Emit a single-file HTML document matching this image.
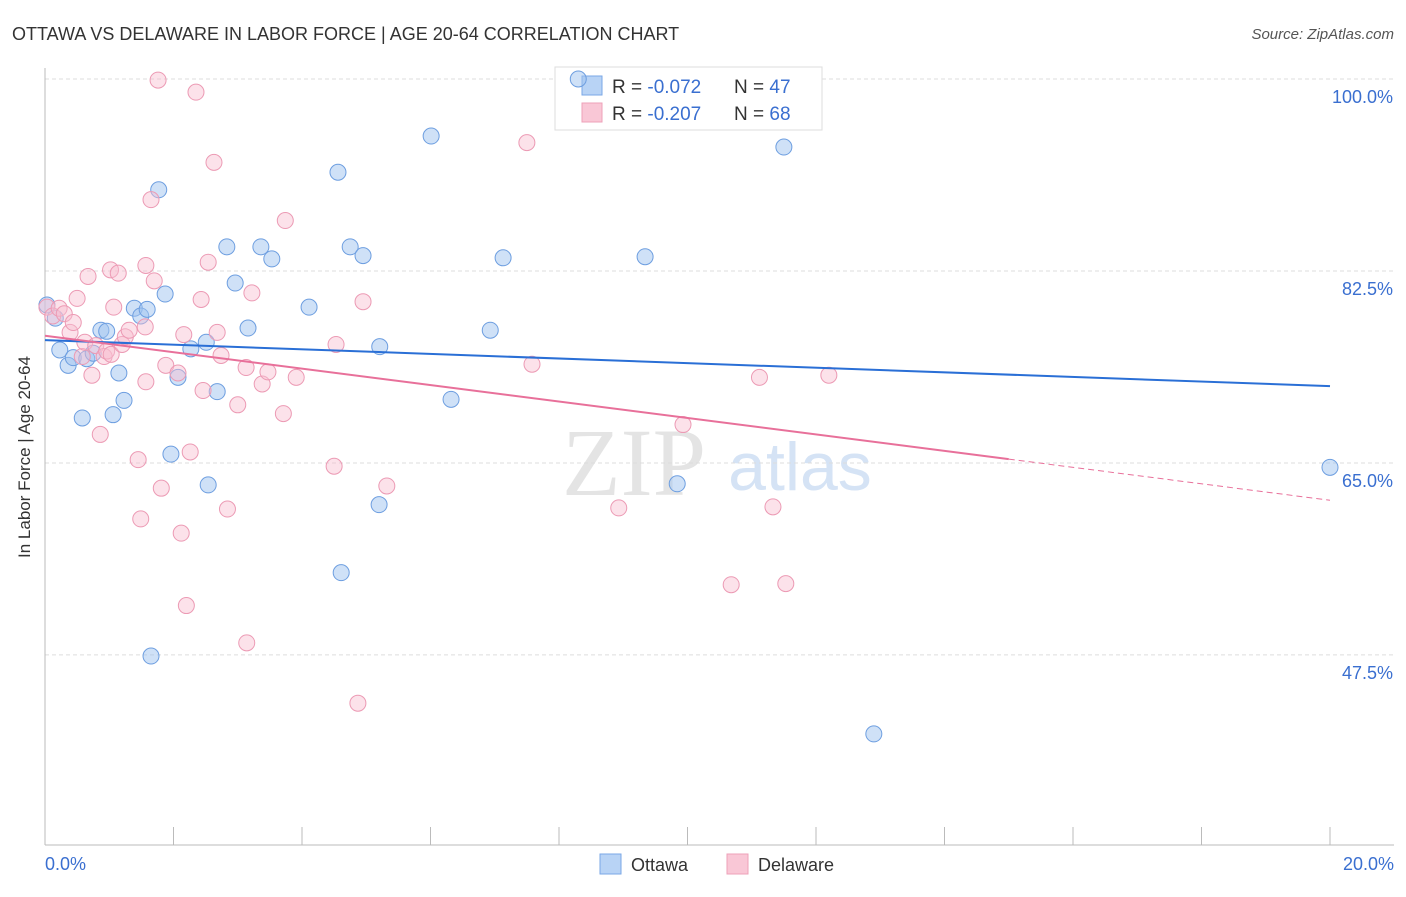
<!DOCTYPE html>
<html><head><meta charset="utf-8"><style>
body{margin:0;background:#fff;font-family:"Liberation Sans",sans-serif;}
</style></head><body>
<svg id="chart" width="1406" height="892" xmlns="http://www.w3.org/2000/svg">
<text x="12" y="40" font-size="18" fill="#333">OTTAWA VS DELAWARE IN LABOR FORCE | AGE 20-64 CORRELATION CHART</text>
<text x="1394" y="39" font-size="15" fill="#555" font-style="italic" text-anchor="end">Source: ZipAtlas.com</text>
<text x="634" y="495" font-size="96" fill="#e4e4e4" font-family="Liberation Serif" text-anchor="middle">ZIP</text>
<text x="800" y="490" font-size="68" fill="#d5e3f5" text-anchor="middle">atlas</text>
<g id="grid"></g><g id="axes"></g>
<g>
<rect x="555" y="67" width="267" height="63" fill="#fff" stroke="#ddd"/>
<rect x="582" y="76" width="20" height="19" fill="#b8d3f5" stroke="#7aa7e6"/>
<rect x="582" y="103" width="20" height="19" fill="#f9c7d6" stroke="#eea0b8"/>
<text x="612" y="93" font-size="19" fill="#333">R = <tspan fill="#3a6fd0">-0.072</tspan></text>
<text x="734" y="93" font-size="19" fill="#333">N = <tspan fill="#3a6fd0">47</tspan></text>
<text x="612" y="120" font-size="19" fill="#333">R = <tspan fill="#3a6fd0">-0.207</tspan></text>
<text x="734" y="120" font-size="19" fill="#333">N = <tspan fill="#3a6fd0">68</tspan></text>
</g>
<g id="pts"></g><g id="lines"></g>
<text x="30" y="457" font-size="17" fill="#333" text-anchor="middle" transform="rotate(-90 30 457)">In Labor Force | Age 20-64</text>
<text x="45" y="870" font-size="18" fill="#3a6fd0">0.0%</text>
<text x="1394" y="870" font-size="18" fill="#3a6fd0" text-anchor="end">20.0%</text>
<g>
<rect x="600" y="854" width="21" height="20" fill="#b8d3f5" stroke="#7aa7e6"/>
<text x="631" y="871" font-size="18" fill="#333">Ottawa</text>
<rect x="727" y="854" width="21" height="20" fill="#f9c7d6" stroke="#eea0b8"/>
<text x="758" y="871" font-size="18" fill="#333">Delaware</text>
</g>
</svg>
<script>
const yTicks=[100,82.5,65,47.5];
const yTickLabels=["100.0%","82.5%","65.0%","47.5%"];
const ottawaX=[0.03,0.16,0.23,0.36,0.44,0.58,0.65,0.75,0.87,0.96,1.06,1.15,1.23,1.39,1.49,1.59,1.65,1.77,1.87,1.96,2.07,2.27,2.51,2.54,2.68,2.83,2.96,3.16,3.36,3.53,4.11,4.56,4.61,4.75,4.95,5.2,5.21,6.01,6.32,6.93,7.13,8.3,9.34,9.84,11.5,12.9,20.0];
const ottawaY=[79.4,78.2,75.3,73.9,74.6,69.1,74.5,75.0,77.1,77.0,69.4,73.2,70.7,79.1,78.4,79.0,47.4,89.9,80.4,65.8,72.8,75.4,76.0,63.0,71.5,84.7,81.4,77.3,84.7,83.6,79.2,91.5,55.0,84.7,83.9,61.2,75.6,94.8,70.8,77.1,83.7,100.0,83.8,63.1,93.8,40.3,64.6];
const delX=[0.03,0.12,0.22,0.3,0.39,0.44,0.5,0.58,0.62,0.67,0.73,0.79,0.86,0.92,0.96,1.02,1.07,1.03,1.14,1.2,1.25,1.31,1.45,1.49,1.56,1.57,1.57,1.65,1.7,1.76,1.81,1.88,2.07,2.12,2.16,2.2,2.26,2.35,2.43,2.46,2.54,2.63,2.68,2.74,2.84,3.0,3.13,3.14,3.22,3.38,3.47,3.71,3.74,3.91,4.5,4.53,4.87,4.95,5.32,7.5,7.58,8.93,9.93,10.68,11.12,11.33,11.53,12.2];
const delY=[79.2,78.4,79.1,78.6,76.9,77.8,80.0,74.7,76.0,82.0,73.0,75.7,67.6,74.7,75.2,82.6,79.2,74.9,82.3,75.8,76.5,77.1,65.3,59.9,77.4,72.4,83.0,89.0,81.6,99.9,62.7,73.9,73.2,58.6,76.7,52.0,66.0,98.8,79.9,71.6,83.3,92.4,76.9,74.8,60.8,70.3,73.7,48.6,80.5,72.2,73.3,69.5,87.1,72.8,64.7,75.8,43.1,79.7,62.9,94.2,74.0,60.9,68.5,53.9,72.8,61.0,54.0,73.0];
const ottawaFit=[76.2,72.0];
const delFit=[76.6,61.6];
const X=v=>45+v/20*1285, Y=v=>79+(100-v)*10.97;
const NS="http://www.w3.org/2000/svg";
function mk(tag,attrs,parent){const e=document.createElementNS(NS,tag);for(const k in attrs)e.setAttribute(k,attrs[k]);document.getElementById(parent).appendChild(e);return e;}
yTicks.forEach((t,i)=>{
 const g=mk('line',{x1:45,x2:1394,y1:Y(t),y2:Y(t),stroke:'#ddd','stroke-dasharray':'4 3'},'grid');
 
 
 const tx=mk('text',{x:1393,y:Y(t)+24,'font-size':18,fill:'#3a6fd0','text-anchor':'end'},'grid');
 tx.textContent=yTickLabels[i];
 
 
});
const ya=mk('line',{x1:45,x2:45,y1:68,y2:845,stroke:'#bbb'},'axes');


const xa=mk('line',{x1:45,x2:1394,y1:845,y2:845,stroke:'#bbb'},'axes');


for(let i=0;i<=10;i++){
 const tk=mk('line',{x1:X(i*2),x2:X(i*2),y1:827,y2:845,stroke:'#bbb'},'axes');
 
 
}
ottawaX.forEach((x,i)=>{
 const c=mk('circle',{cx:X(x),cy:Y(ottawaY[i]),r:8,fill:'rgba(160,196,240,0.5)',stroke:'#6d9ee0','stroke-width':1},'pts');
 
 
});
delX.forEach((x,i)=>{
 const c=mk('circle',{cx:X(x),cy:Y(delY[i]),r:8,fill:'rgba(248,190,208,0.45)',stroke:'#ec9ab4','stroke-width':1},'pts');
 
 
});
const l1=mk('line',{x1:X(0),y1:Y(ottawaFit[0]),x2:X(20),y2:Y(ottawaFit[1]),stroke:'#2a6fd6','stroke-width':2},'lines');


const dy=v=>delFit[0]+(delFit[1]-delFit[0])*v/20;
const l2=mk('line',{x1:X(0),y1:Y(dy(0)),x2:X(15),y2:Y(dy(15)),stroke:'#e8709a','stroke-width':2},'lines');


const l3=mk('line',{x1:X(15),y1:Y(dy(15)),x2:X(20),y2:Y(dy(20)),stroke:'#e8709a','stroke-width':1,'stroke-dasharray':'6 4'},'lines');


</script>
</body></html>
